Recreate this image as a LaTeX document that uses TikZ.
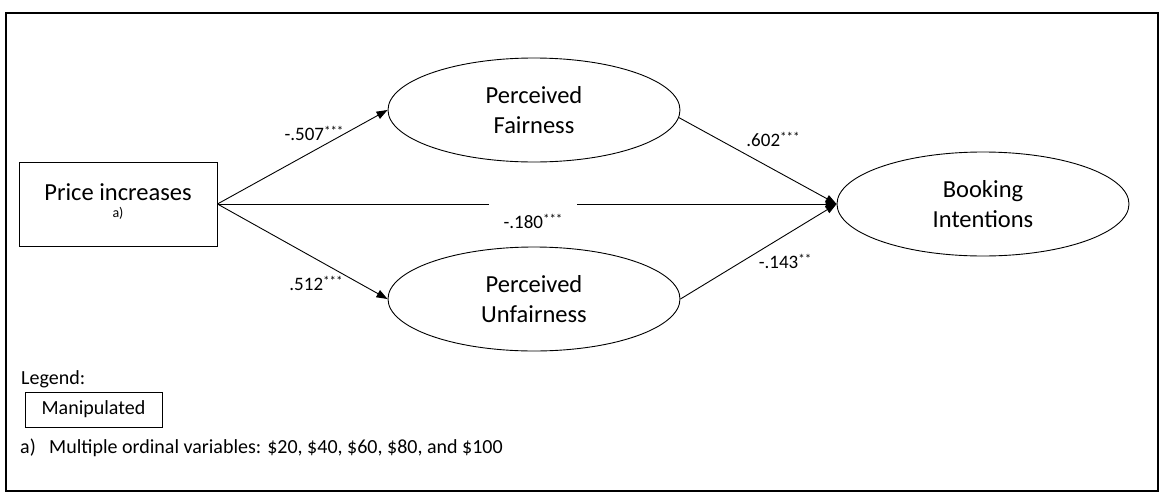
\documentclass[tikz,border=0pt]{standalone}
\usepackage{fontspec}
\setmainfont{Carlito}
\usetikzlibrary{shapes.geometric,arrows.meta}
\newcommand{\sig}[1]{\raisebox{4.5pt}{\fontsize{13}{13}\selectfont #1}}
\begin{document}
\begin{tikzpicture}[x=1pt,y=-1pt,
  latent/.style={ellipse, draw, line width=0.9pt, minimum width=292pt, minimum height=104pt, inner sep=0pt, align=center, font=\fontsize{24.5}{30}\selectfont},
  arr/.style={-{Triangle[length=11pt,width=8pt]}, line width=0.9pt},
  coef/.style={anchor=base, inner sep=0pt, font=\fontsize{19}{22}\selectfont},
  legtext/.style={font=\fontsize{20}{23}\selectfont, inner sep=0pt},
  boxstyle/.style={draw, line width=0.9pt, inner sep=0pt}]
\useasboundingbox (0,0) rectangle (1160,498);
\draw[line width=1.2pt] (6,13) rectangle (1158,491);

% exogenous variable
\node[boxstyle, minimum width=198pt, minimum height=84pt] (price) at (118,204) {};
\node[anchor=base, inner sep=0pt, font=\fontsize{24.5}{30}\selectfont] (pricetxt) at (118,200) {Price increases};
\node[anchor=base, inner sep=0pt, font=\fontsize{14}{14}\selectfont] (pricenote) at (118,217.5) {a)};

% latent variables
\node[latent] (fair) at (534,110) {Perceived\\Fairness};
\node[latent] (unf) at (534,299) {Perceived\\Unfairness};
\node[latent] (book) at (983,204) {Booking\\Intentions};

% paths
\draw[arr] (price.east) -- (fair.west);
\draw[arr] (price.east) -- (unf.west);
\draw[arr] (price.east) -- (book.west);
\draw[arr] (fair.-3) -- (book.west);
\draw[arr] (unf.east) -- (book.west);

% coefficients
\node[coef] (c1) at (314,140) {-.507\sig{***}};
\node[coef] (c2) at (316,290) {.512\sig{***}};
\node[coef] (c3) at (773,146) {.602\sig{***}};
\node[coef] (c4) at (785,268) {-.143\sig{**}};
\node[coef, fill=white, inner xsep=15pt, inner ysep=2pt] (c5) at (533,228) {\rule{0pt}{27pt}-.180\sig{***}};

% legend
\node[legtext, anchor=base west] (legend) at (21,384) {Legend:};
\node[boxstyle, legtext, minimum width=137pt, minimum height=35pt] (manip) at (93.5,409.5) {Manipulated};
\node[legtext, anchor=base west] (fnlabel) at (20,453) {a)};
\node[legtext, anchor=base west] (fntext) at (49,453) {Multiple ordinal variables: \$20, \$40, \$60, \$80, and \$100};
\end{tikzpicture}
\end{document}
